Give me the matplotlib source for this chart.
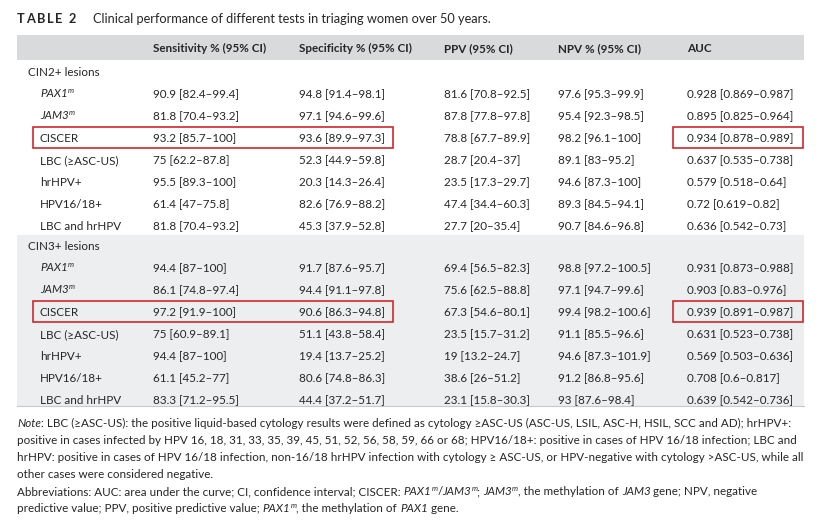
import matplotlib
matplotlib.use("Agg")
import matplotlib.pyplot as plt
from matplotlib.font_manager import FontProperties
from matplotlib.patches import Rectangle

# ---------- data ----------
columns = ["Sensitivity % (95% CI)", "Specificity % (95% CI)", "PPV (95% CI)",
           "NPV % (95% CI)", "AUC"]
groups = ["CIN2+ lesions", "CIN3+ lesions"]
tests = ["PAX1", "JAM3", "CISCER", "LBC (≥ASC-US)", "hrHPV+", "HPV16/18+", "LBC and hrHPV"]

cin2_sens = ["90.9 [82.4–99.4]", "81.8 [70.4–93.2]", "93.2 [85.7–100]", "75 [62.2–87.8]",
             "95.5 [89.3–100]", "61.4 [47–75.8]", "81.8 [70.4–93.2]"]
cin2_spec = ["94.8 [91.4–98.1]", "97.1 [94.6–99.6]", "93.6 [89.9–97.3]", "52.3 [44.9–59.8]",
             "20.3 [14.3–26.4]", "82.6 [76.9–88.2]", "45.3 [37.9–52.8]"]
cin2_ppv = ["81.6 [70.8–92.5]", "87.8 [77.8–97.8]", "78.8 [67.7–89.9]", "28.7 [20.4–37]",
            "23.5 [17.3–29.7]", "47.4 [34.4–60.3]", "27.7 [20–35.4]"]
cin2_npv = ["97.6 [95.3–99.9]", "95.4 [92.3–98.5]", "98.2 [96.1–100]", "89.1 [83–95.2]",
            "94.6 [87.3–100]", "89.3 [84.5–94.1]", "90.7 [84.6–96.8]"]
cin2_auc = ["0.928 [0.869–0.987]", "0.895 [0.825–0.964]", "0.934 [0.878–0.989]",
            "0.637 [0.535–0.738]", "0.579 [0.518–0.64]", "0.72 [0.619–0.82]",
            "0.636 [0.542–0.73]"]

cin3_sens = ["94.4 [87–100]", "86.1 [74.8–97.4]", "97.2 [91.9–100]", "75 [60.9–89.1]",
             "94.4 [87–100]", "61.1 [45.2–77]", "83.3 [71.2–95.5]"]
cin3_spec = ["91.7 [87.6–95.7]", "94.4 [91.1–97.8]", "90.6 [86.3–94.8]", "51.1 [43.8–58.4]",
             "19.4 [13.7–25.2]", "80.6 [74.8–86.3]", "44.4 [37.2–51.7]"]
cin3_ppv = ["69.4 [56.5–82.3]", "75.6 [62.5–88.8]", "67.3 [54.6–80.1]", "23.5 [15.7–31.2]",
            "19 [13.2–24.7]", "38.6 [26–51.2]", "23.1 [15.8–30.3]"]
cin3_npv = ["98.8 [97.2–100.5]", "97.1 [94.7–99.6]", "99.4 [98.2–100.6]", "91.1 [85.5–96.6]",
            "94.6 [87.3–101.9]", "91.2 [86.8–95.6]", "93 [87.6–98.4]"]
cin3_auc = ["0.931 [0.873–0.988]", "0.903 [0.83–0.976]", "0.939 [0.891–0.987]",
            "0.631 [0.523–0.738]", "0.569 [0.503–0.636]", "0.708 [0.6–0.817]",
            "0.639 [0.542–0.736]"]

group_data = [[cin2_sens, cin2_spec, cin2_ppv, cin2_npv, cin2_auc],
              [cin3_sens, cin3_spec, cin3_ppv, cin3_npv, cin3_auc]]

title_lbl = "TABLE 2"
title_txt = "Clinical performance of different tests in triaging women over 50 years."

# note lines as runs: (text, style) n=normal, i=italic, s=superscript italic
notes = [
    [("Note", "i"), (": LBC (≥ASC-US): the positive liquid-based cytology results were defined as "
                     "cytology ≥ASC-US (ASC-US, LSIL, ASC-H, HSIL, SCC and AD); hrHPV+:", "n")],
    [("positive in cases infected by HPV 16, 18, 31, 33, 35, 39, 45, 51, 52, 56, 58, 59, 66 or 68; "
      "HPV16/18+: positive in cases of HPV 16/18 infection; LBC and", "n")],
    [("hrHPV: positive in cases of HPV 16/18 infection, non-16/18 hrHPV infection with cytology "
      "≥ ASC-US, or HPV-negative with cytology >ASC-US, while all", "n")],
    [("other cases were considered negative.", "n")],
    [("Abbreviations: AUC: area under the curve; CI, confidence interval; CISCER: ", "n"),
     ("PAX1", "i"), ("m", "s"), ("/", "n"), ("JAM3", "i"), ("m", "s"), ("; ", "n"),
     ("JAM3", "i"), ("m", "s"), (", the methylation of ", "n"), ("JAM3", "i"),
     (" gene; NPV, negative", "n")],
    [("predictive value; PPV, positive predictive value; ", "n"), ("PAX1", "i"), ("m", "s"),
     (", the methylation of ", "n"), ("PAX1", "i"), (" gene.", "n")],
]

# ---------- style ----------
W, H = 827, 522
FAM = ["Lato", "DejaVu Sans"]
TXT = "#262626"
RED = "#d0282e"
HEAD_BG = "#d9dadc"
BAND_BG = "#eceef0"
FS = 8.4
COL_X = [153, 299, 444, 558, 687]
ROW_H = 21.9
GROUP_Y = [72, 246]
METHYL = {"PAX1", "JAM3"}
HILITE = "CISCER"

fig = plt.figure(figsize=(W / 100, H / 100), dpi=100)
ax = fig.add_axes([0, 0, 1, 1])
ax.set_xlim(0, W)
ax.set_ylim(H, 0)
ax.axis("off")
r = fig.canvas.get_renderer()


def fprop(size=FS, style="normal", weight="normal"):
    return FontProperties(family=FAM, size=size, style=style, weight=weight)


def twidth(s, prop):
    w1, _, _ = r.get_text_width_height_descent(s + "|", prop, ismath=False)
    w0, _, _ = r.get_text_width_height_descent("|", prop, ismath=False)
    return w1 - w0


def draw_runs(x, y, parts, size=FS, va="baseline", spacing=0.0, weight="normal"):
    for txt, st in parts:
        if st == "s":
            p = fprop(size * 0.65, "italic", weight)
            yy = y - size * 100 / 72 * 0.38
        else:
            p = fprop(size, "italic" if st == "i" else "normal", weight)
            yy = y
        if spacing:
            for ch in txt:
                ax.text(x, yy, ch, fontproperties=p, color=TXT, va=va, ha="left")
                x += twidth(ch, p) + spacing
        else:
            ax.text(x, yy, txt, fontproperties=p, color=TXT, va=va, ha="left")
            x += twidth(txt, p)
    return x


# title
draw_runs(17, 23, [(title_lbl, "n")], size=9.2, weight="bold", spacing=1.6)
draw_runs(93, 23, [(title_txt, "n")], size=9.2)

# header band
ax.add_patch(Rectangle((17, 35), 787, 25, color=HEAD_BG, lw=0))
for cx, c in zip(COL_X, columns):
    ax.text(cx, 47.5, c, fontproperties=fprop(weight="bold"), color=TXT,
            va="center_baseline", ha="left")

# second group band
ax.add_patch(Rectangle((17, 235), 787, 171, color=BAND_BG, lw=0))
ax.plot([17, 804], [406, 406], color="#c8c9cb", lw=0.8)

for g, gy in enumerate(GROUP_Y):
    ax.text(28, gy, groups[g], fontproperties=fprop(), color=TXT, va="center_baseline")
    for i, t in enumerate(tests):
        y = gy + ROW_H * (i + 1)
        if t in METHYL:
            draw_runs(40, y + 3.5, [(t, "i"), ("m", "s")])
        else:
            ax.text(40, y, t, fontproperties=fprop(), color=TXT, va="center_baseline")
        for cx, col in zip(COL_X, group_data[g]):
            ax.text(cx, y, col[i], fontproperties=fprop(), color=TXT, va="center_baseline")
        if t == HILITE:
            ax.add_patch(Rectangle((32.5, y - 10.5), 360, 21, fill=False, ec=RED, lw=1.2))
            ax.add_patch(Rectangle((673, y - 10.5), 130, 21, fill=False, ec=RED, lw=1.2))

# notes
for k, line in enumerate(notes):
    draw_runs(17, 427 + 17.1 * k, line)

fig.savefig("out.png", dpi=100)
